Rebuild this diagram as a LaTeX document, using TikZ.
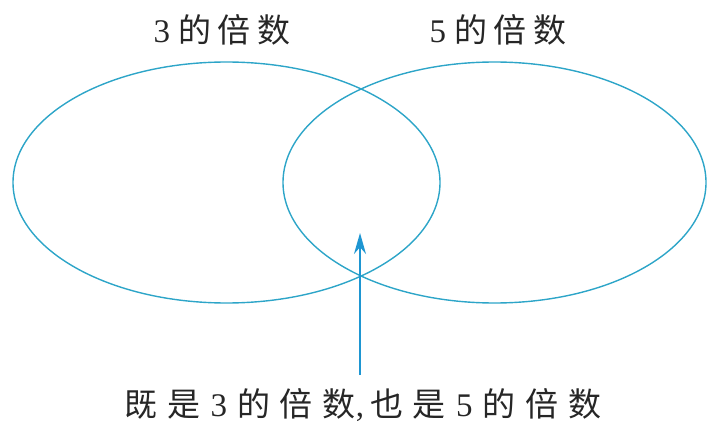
\documentclass[tikz,border=0pt]{standalone}
\usepackage{fontspec}
\setmainfont{Liberation Serif}
\newfontfamily\cjk[LetterSpace=20]{Noto Sans CJK SC}
\newfontfamily\cjkwide[LetterSpace=30]{Noto Sans CJK SC}
\usetikzlibrary{arrows.meta,shapes.geometric}
\definecolor{vennline}{RGB}{45,165,200}
\definecolor{arrowblue}{RGB}{30,150,210}
\tikzset{
  venn/.style={draw=vennline, line width=1.4pt, ellipse, inner sep=0pt},
  lbl/.style={inner sep=0pt, font=\fontsize{33}{36}\selectfont, text=black!85},
  pointer/.style={draw=arrowblue, line width=2pt, -{Stealth[length=21pt,width=12pt]}}
}
\newcommand{\gap}{\hspace{8pt}}
\begin{document}
\begin{tikzpicture}[x=1pt,y=-1pt]
\useasboundingbox (0,0) rectangle (707,425);
\node[venn, minimum width=427pt, minimum height=241pt] (A) at (226.5,182.5) {};
\node[venn, minimum width=423pt, minimum height=241pt] (B) at (494.5,182.5) {};
\node[lbl] (la) at (222,30) {3\gap{\cjk 的倍数}};
\node[lbl] (lb) at (498,30) {5\gap{\cjk 的倍数}};
\node[lbl] (lc) at (363,405) {{\cjkwide 既是}\hspace{10pt}3\hspace{10pt}{\cjkwide 的倍数},\hspace{6pt}{\cjkwide 也是}\hspace{10pt}5\hspace{10pt}{\cjkwide 的倍数}};
\coordinate (base) at (360,375);
\coordinate (tip) at (360,233);
\draw[pointer] (base) -- (tip);
\end{tikzpicture}
\end{document}
